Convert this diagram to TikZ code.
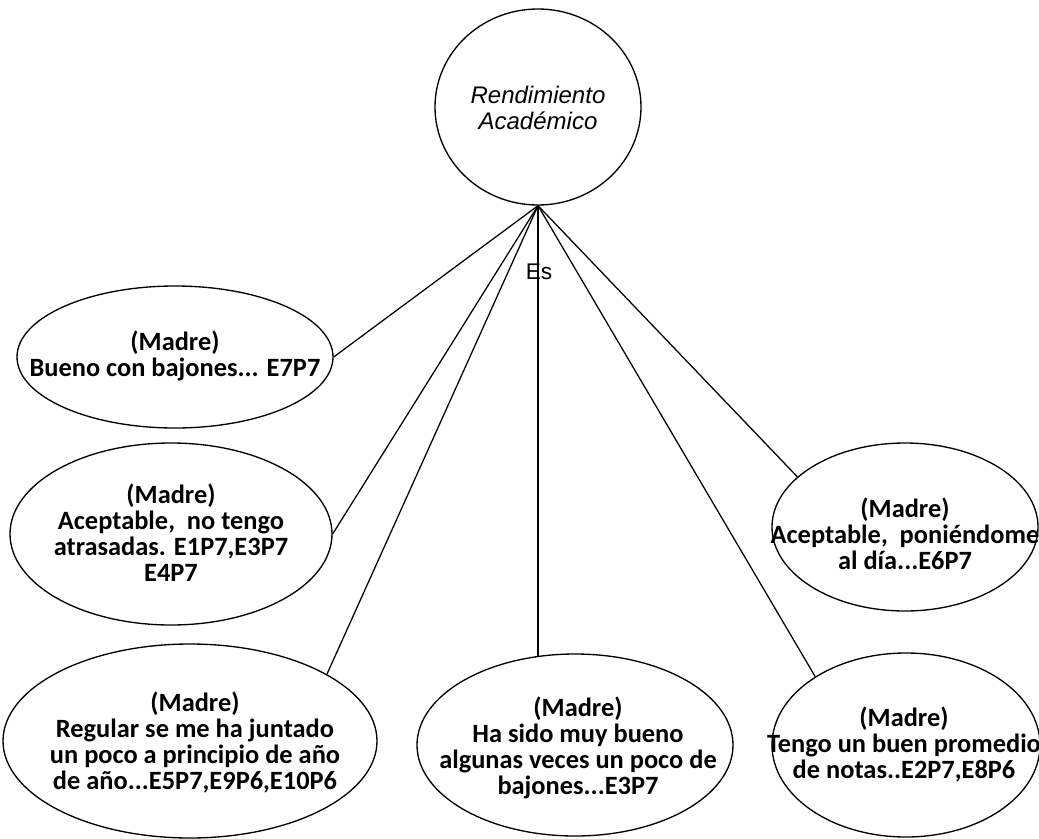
\documentclass[tikz,border=0pt]{standalone}
\usepackage{fontspec}
\setmainfont{Carlito}
\newfontfamily\arialfont{Liberation Sans}
\usetikzlibrary{shapes.geometric}
\begin{document}
\begin{tikzpicture}[x=0.75pt,y=-0.75pt,
  ell/.style={ellipse,draw,line width=1pt,inner sep=0pt},
  txt/.style={align=center,font=\bfseries\fontsize{19.8}{19.5}\selectfont,inner sep=0pt},
  conn/.style={line width=0.95pt}]
\useasboundingbox (0,0) rectangle (1039,839);
% ellipses
\node[ell, minimum width=154.5pt, minimum height=147pt] (root) at (538,107) {};
\node[ell, minimum width=237pt, minimum height=106.5pt] (e1) at (175,357) {};
\node[ell, minimum width=241.5pt, minimum height=136.5pt] (e2) at (171,534) {};
\node[ell, minimum width=280.5pt, minimum height=145.5pt] (e3) at (190,741) {};
\node[ell, minimum width=237pt, minimum height=136.5pt] (e4) at (575,745) {};
\node[ell, minimum width=199.5pt, minimum height=126pt] (e5) at (905,527) {};
\node[ell, minimum width=201pt, minimum height=138pt] (e6) at (906,745) {};
% texts
\node[align=center,inner sep=0pt,font=\arialfont\itshape\fontsize{18}{19.5}\selectfont] (rt) at (538,108) {Rendimiento\\Académico};
\node[txt] (t1) at (175,356) {(Madre)\\Bueno con bajones... E7P7};
\node[txt] (t2) at (171,533) {(Madre)\\Aceptable,~ no tengo\\atrasadas. E1P7,E3P7\\E4P7};
\node[txt] (t3) at (195,742) {(Madre)\\Regular se me ha juntado\\un poco a principio de año\\de año...E5P7,E9P6,E10P6};
\node[txt] (t4) at (578,748) {(Madre)\\Ha sido muy bueno\\algunas veces un poco de\\bajones...E3P7};
\node[txt] (t5) at (905,534) {(Madre)\\Aceptable,~ poniéndome\\al día...E6P7};
\node[txt] (t6) at (904,744) {(Madre)\\Tengo un buen promedio\\de notas..E2P7,E8P6};
% connectors
\draw[conn] (root.south) -- (e1.east);
\draw[conn] (root.south) -- (e2.east);
\draw[conn] (root.south) -- (e3.26);
\draw[conn] (root.south) -- (root.south |- e4.114);
\draw[conn] (root.south) -- (e5.155);
\draw[conn] (root.south) -- (e6.143);
\node[inner sep=0pt,font=\arialfont\fontsize{17}{17}\selectfont] (es) at (539,272) {Es};
\end{tikzpicture}
\end{document}
